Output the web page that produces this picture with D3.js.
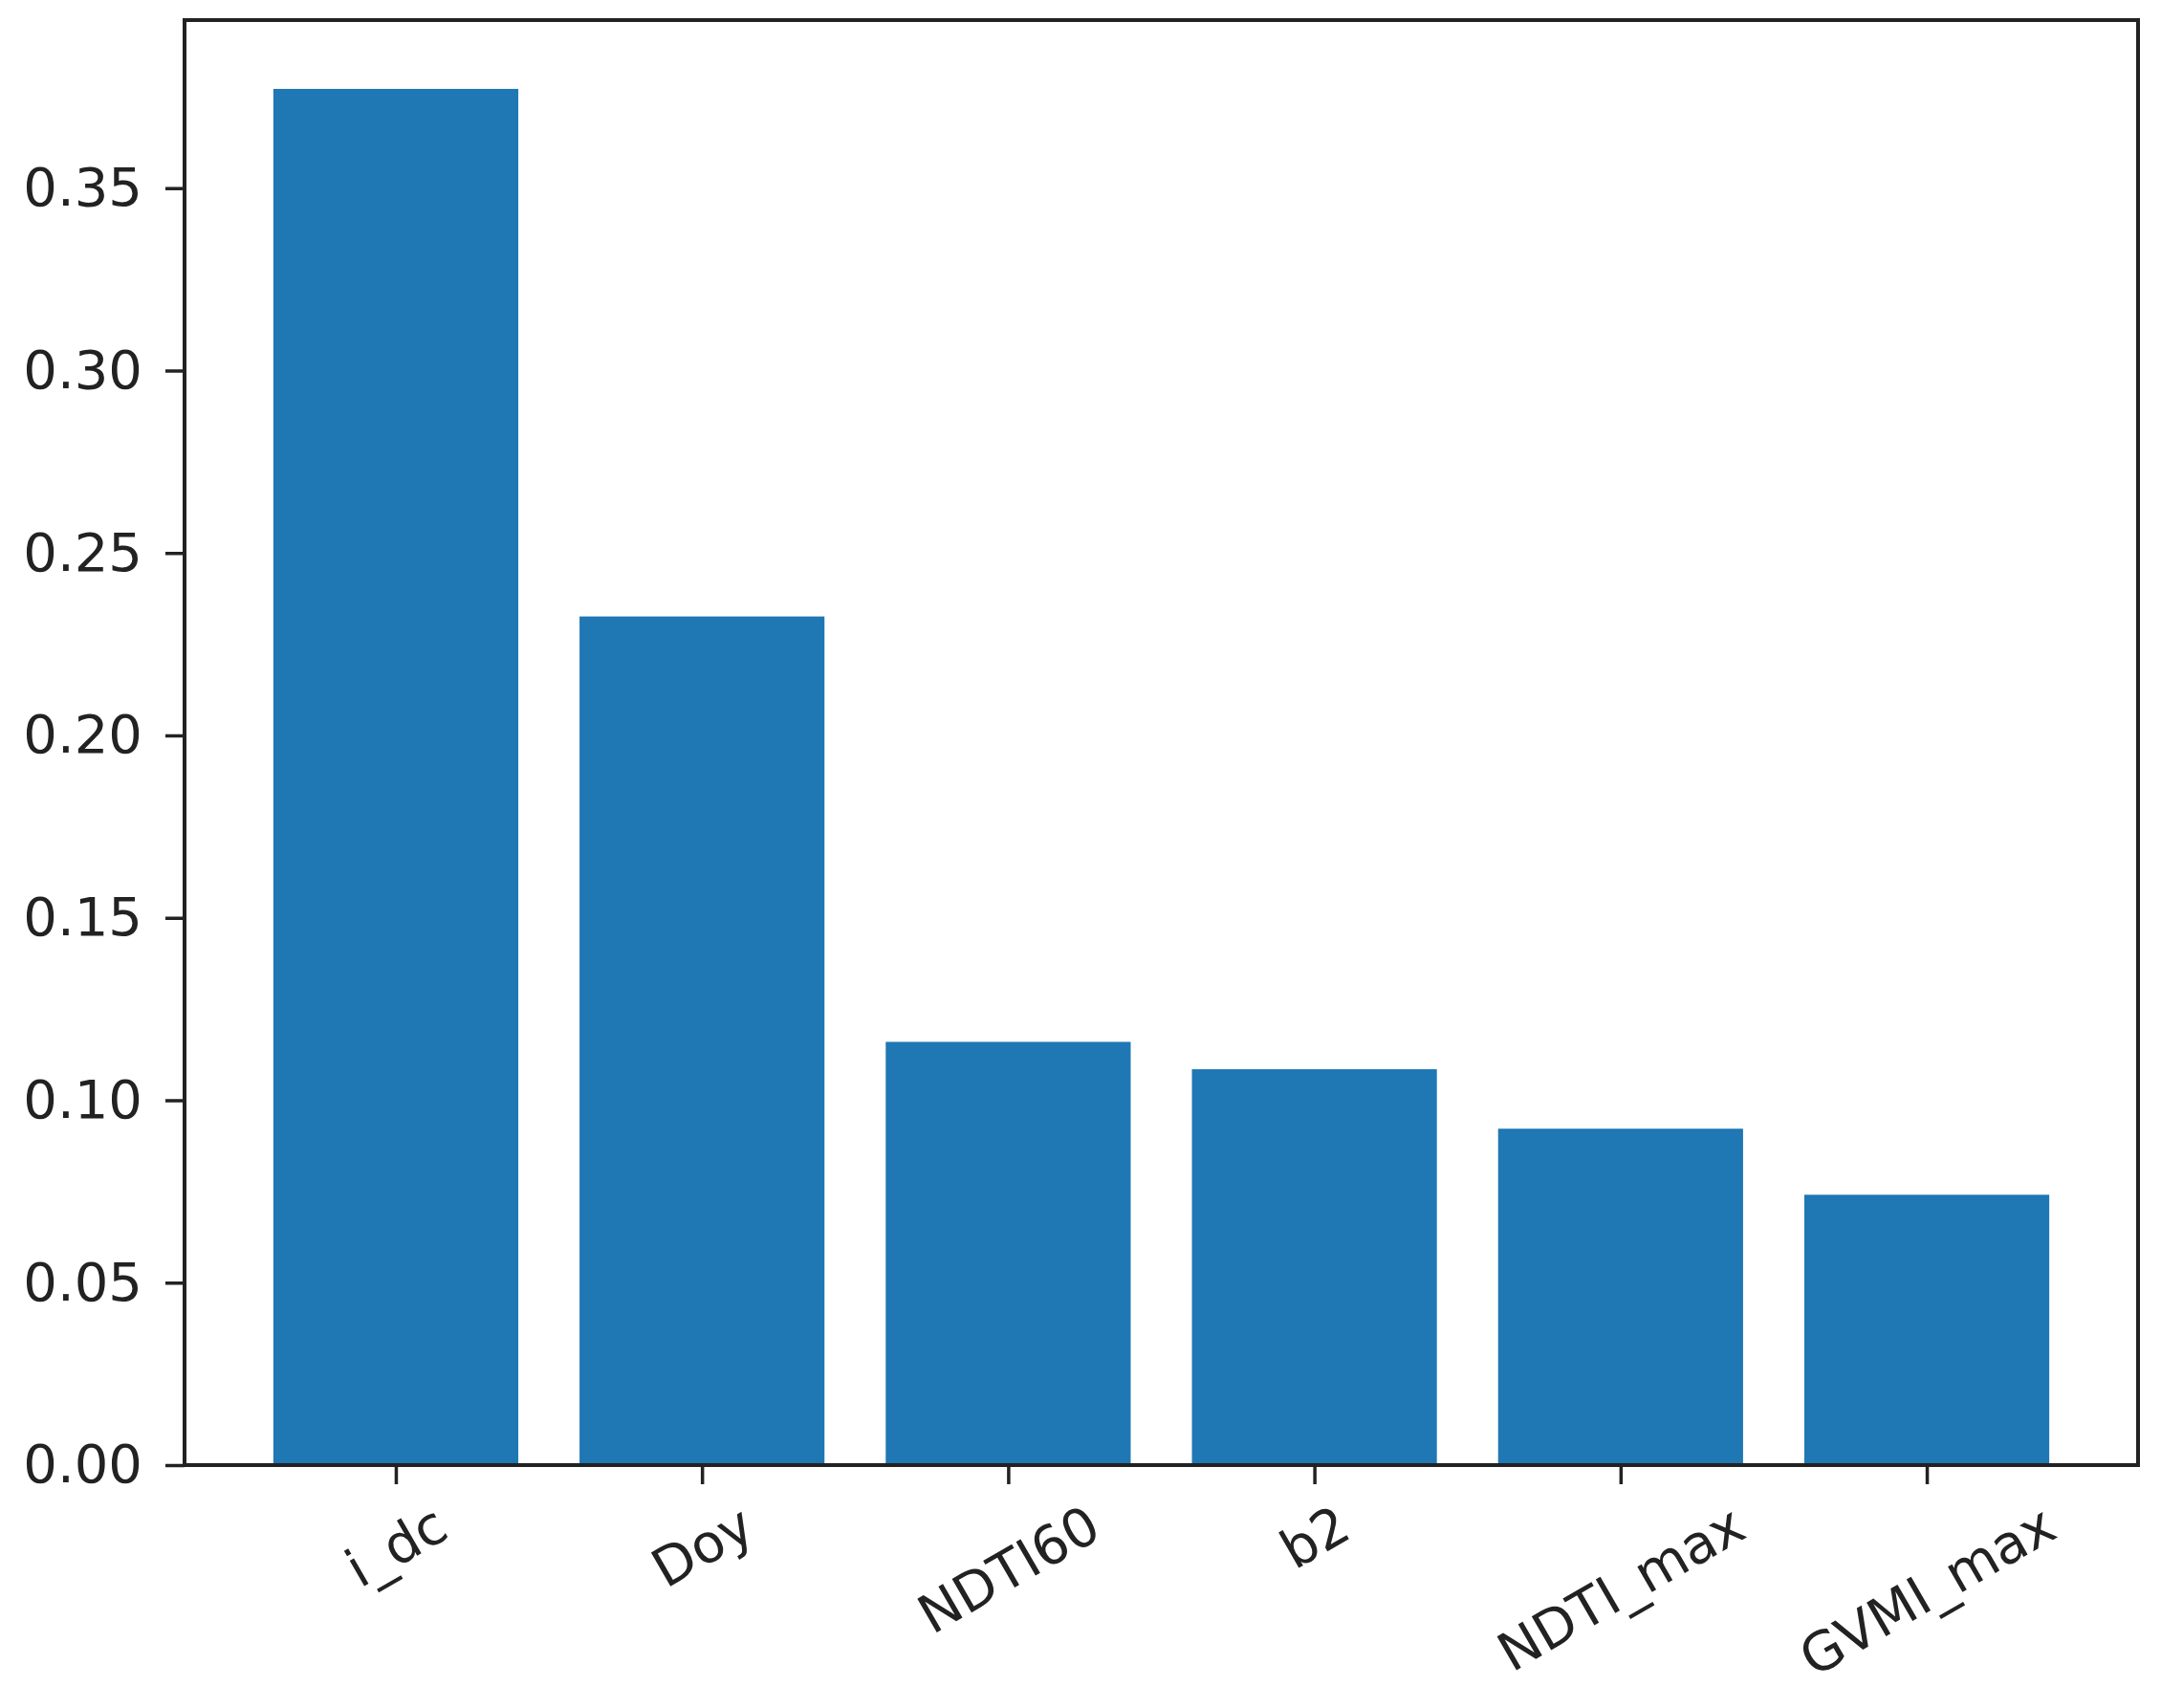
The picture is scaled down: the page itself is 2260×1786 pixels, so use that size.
<!DOCTYPE html>
<html>
<head>
  <title>Feature importance</title>
  <script src="https://d3js.org/d3.v7.min.js"></script>
</head>
<body style="margin:0px; overflow:hidden; background:#fff;">
  <svg id="myPlot"></svg>
  <script>
    // Data
    const features = ["i_dc", "Doy", "NDTI60", "b2", "NDTI_max", "GVMI_max"];
    const importance = [0.3772, 0.2326, 0.1160, 0.1085, 0.0922, 0.0741];
    const yTicks = [0.00, 0.05, 0.10, 0.15, 0.20, 0.25, 0.30, 0.35];

    // Dimensions
    const width = 2260, height = 1786;
    const margin = {top: 21, right: 24, bottom: 254, left: 193};
    const w = width - margin.left - margin.right;
    const h = height - margin.top - margin.bottom;
    const fontSize = 56;
    const font = "'DejaVu Sans', sans-serif";

    const svg = d3.select("#myPlot")
      .attr("width", width)
      .attr("height", height);

    const g = svg.append("g")
      .attr("transform", "translate(" + margin.left + "," + margin.top + ")");

    // X scale, matplotlib style: index positions with 5% margin around bars
    const n = features.length;
    const barW = 0.8;
    const lo = -barW / 2, hi = n - 1 + barW / 2;
    const pad = (hi - lo) * 0.05;
    const x = d3.scaleLinear().domain([lo - pad, hi + pad]).range([0, w]);

    // Y scale
    const yMax = d3.max(importance) * 1.05;
    const y = d3.scaleLinear().domain([0, yMax]).range([h, 0]);

    // Bars
    g.append("g")
      .selectAll("rect")
      .data(importance).enter()
      .append("rect")
      .attr("x", (d, i) => x(i - barW / 2))
      .attr("width", (d, i) => x(i + barW / 2) - x(i - barW / 2))
      .attr("y", d => y(d))
      .attr("height", d => y(0) - y(d))
      .style("fill", "#1f77b4");

    // Y axis
    const yAxis = g.append("g")
      .call(d3.axisLeft(y).tickValues(yTicks).tickFormat(d3.format(".2f"))
        .tickSize(20).tickPadding(24));
    yAxis.select(".domain").remove();
    yAxis.selectAll(".tick line").attr("stroke", "#222").attr("stroke-width", 3.5);
    yAxis.selectAll(".tick text")
      .attr("fill", "#222")
      .style("font-family", font)
      .style("font-size", fontSize + "px");

    // X axis
    const xAxis = g.append("g")
      .attr("transform", "translate(0," + h + ")")
      .call(d3.axisBottom(x).tickValues(d3.range(n)).tickFormat(i => features[i])
        .tickSize(20));
    xAxis.select(".domain").remove();
    xAxis.selectAll(".tick line").attr("stroke", "#222").attr("stroke-width", 3.5);

    // Rotated labels, centred under the tick like matplotlib ha='center'
    const labelTop = 32;
    const ang = 30 * Math.PI / 180;
    xAxis.selectAll(".tick text")
      .attr("fill", "#222")
      .style("font-family", font)
      .style("font-size", fontSize + "px")
      .attr("y", 0).attr("dy", null)
      .attr("text-anchor", "middle")
      .attr("dominant-baseline", "central")
      .attr("transform", function () {
        const tw = this.getComputedTextLength();
        const th = fontSize * 1.05;
        const bh = tw * Math.sin(ang) + th * Math.cos(ang);
        return "translate(0," + (labelTop + bh / 2) + ") rotate(-30)";
      });

    // Frame
    g.append("rect")
      .attr("width", w)
      .attr("height", h)
      .attr("fill", "none")
      .attr("stroke", "#222")
      .attr("stroke-width", 4);
  </script>
</body>
</html>
